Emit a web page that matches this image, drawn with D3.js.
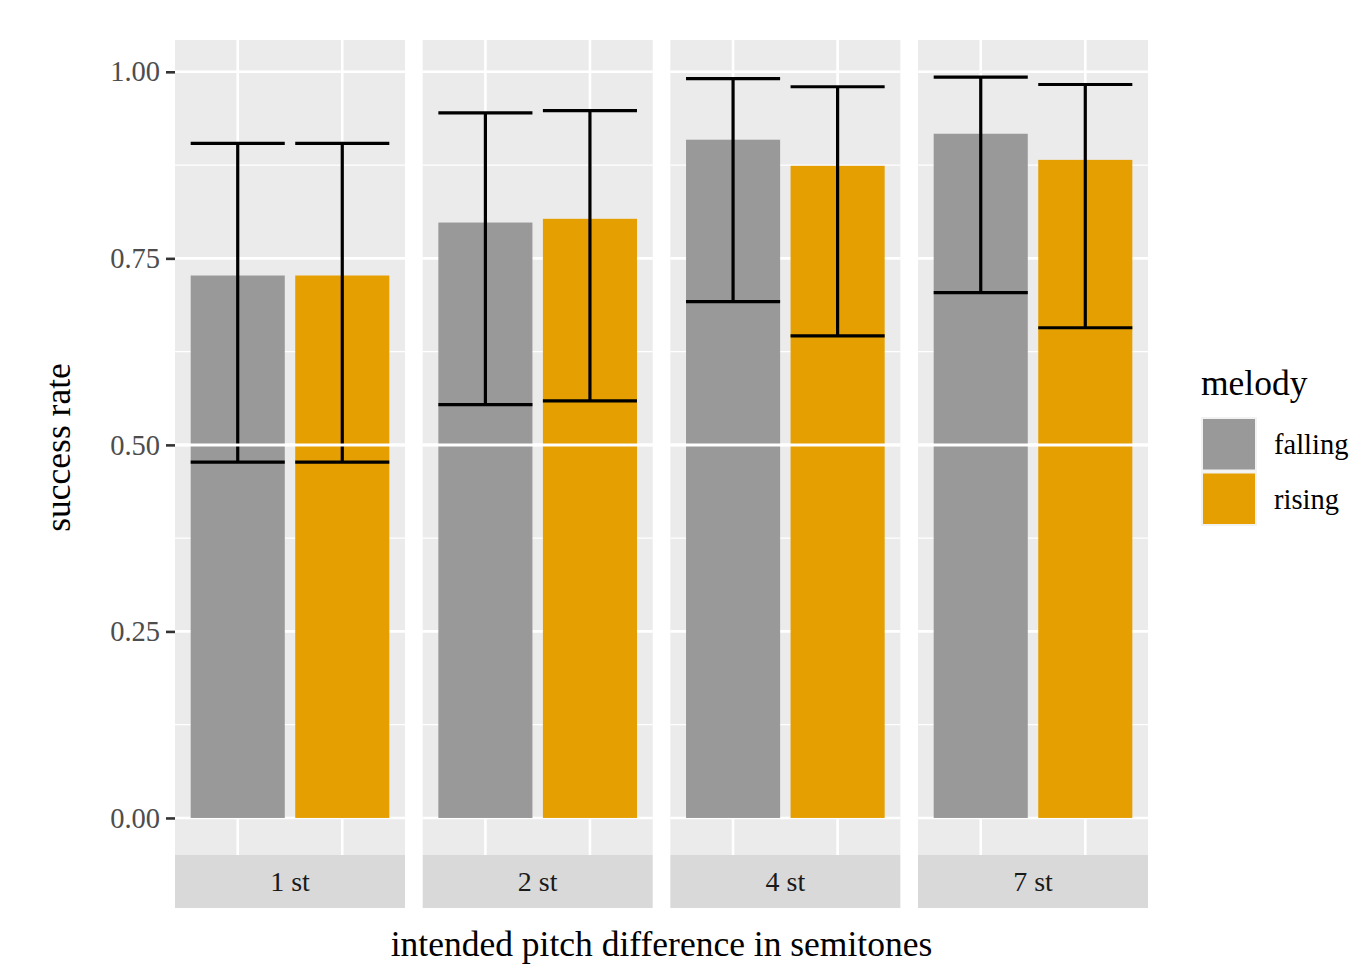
<!DOCTYPE html>
<html>
<head>
<meta charset="utf-8">
<script src="https://cdn.jsdelivr.net/npm/d3@7"></script>
<style>
  html, body { margin: 0; padding: 0; background: #fff; }
  svg { display: block; }
  text { font-family: "Liberation Serif", "DejaVu Serif", serif; }
</style>
</head>
<body>
<svg id="chart" width="1366" height="964"></svg>
<script>
// ---- data ----
const facets = ["1 st", "2 st", "4 st", "7 st"];
const melodies = ["falling", "rising"];
const fallingRate = [0.727, 0.798, 0.909, 0.917];
const risingRate  = [0.727, 0.803, 0.874, 0.882];
const fallingLower = [0.477, 0.554, 0.692, 0.704];
const fallingUpper = [0.904, 0.945, 0.991, 0.993];
const risingLower  = [0.477, 0.559, 0.646, 0.657];
const risingUpper  = [0.904, 0.948, 0.980, 0.983];
const yTicks = [0, 0.25, 0.5, 0.75, 1.0];
const yMinor = [0.125, 0.375, 0.625, 0.875];
const colors = { falling: "#999999", rising: "#E69F00" };
const chanceLevel = 0.5;

const rows = [];
facets.forEach((f, i) => {
  rows.push({ facet: f, melody: "falling", rate: fallingRate[i], lo: fallingLower[i], hi: fallingUpper[i] });
  rows.push({ facet: f, melody: "rising", rate: risingRate[i], lo: risingLower[i], hi: risingUpper[i] });
});

// ---- layout ----
const svg = d3.select("#chart");
const panelTop = 40, panelBottom = 855;
const stripH = 53;
const panelLeft = 175, panelW = 230, panelStep = 247.67;

const allVals = rows.flatMap(d => [0, d.rate, d.hi, d.lo]);
const yMax = d3.max(allVals), yMinV = 0;
const ex = (yMax - yMinV) * 0.05;
const y = d3.scaleLinear().domain([yMinV - ex, yMax + ex]).range([panelBottom, panelTop]);

// within-panel discrete x: positions 1,2 with 0.6 expand
const xc = d3.scaleLinear().domain([0.4, 2.6]).range([0, panelW]);
const barW = xc(1.45) - xc(1.0); // half of 0.9 width

const tickColor = "#333333";
const axisTextColor = "#4D4D4D";
const ebWidth = 3.2;

facets.forEach((f, i) => {
  const px = panelLeft + i * panelStep;
  const g = svg.append("g").attr("transform", `translate(${px},0)`);
  g.append("rect").attr("x", 0).attr("y", panelTop).attr("width", panelW).attr("height", panelBottom - panelTop).attr("fill", "#EBEBEB");
  // minor grid
  g.selectAll(".minor").data(yMinor).enter().append("line")
    .attr("x1", 0).attr("x2", panelW).attr("y1", d => y(d)).attr("y2", d => y(d))
    .attr("stroke", "#fff").attr("stroke-width", 1.3);
  // major grid
  g.selectAll(".major").data(yTicks).enter().append("line")
    .attr("x1", 0).attr("x2", panelW).attr("y1", d => y(d)).attr("y2", d => y(d))
    .attr("stroke", "#fff").attr("stroke-width", 2.6);
  g.selectAll(".vmajor").data(melodies).enter().append("line")
    .attr("x1", (d, j) => xc(j + 1)).attr("x2", (d, j) => xc(j + 1))
    .attr("y1", panelTop).attr("y2", panelBottom)
    .attr("stroke", "#fff").attr("stroke-width", 2.6);

  const data = rows.filter(r => r.facet === f);
  // bars
  g.selectAll(".bar").data(data).enter().append("rect")
    .attr("x", (d, j) => xc(j + 1) - barW)
    .attr("width", 2 * barW)
    .attr("y", d => y(d.rate))
    .attr("height", d => y(0) - y(d.rate))
    .attr("fill", d => colors[d.melody]);
  // error bars
  const eb = g.selectAll(".eb").data(data).enter().append("g");
  eb.append("line")
    .attr("x1", (d, j) => xc(j + 1)).attr("x2", (d, j) => xc(j + 1))
    .attr("y1", d => y(d.lo)).attr("y2", d => y(d.hi))
    .attr("stroke", "#000").attr("stroke-width", ebWidth);
  eb.append("line")
    .attr("x1", (d, j) => xc(j + 1) - barW).attr("x2", (d, j) => xc(j + 1) + barW)
    .attr("y1", d => y(d.hi)).attr("y2", d => y(d.hi))
    .attr("stroke", "#000").attr("stroke-width", ebWidth);
  eb.append("line")
    .attr("x1", (d, j) => xc(j + 1) - barW).attr("x2", (d, j) => xc(j + 1) + barW)
    .attr("y1", d => y(d.lo)).attr("y2", d => y(d.lo))
    .attr("stroke", "#000").attr("stroke-width", ebWidth);
  // chance line
  g.append("line").attr("x1", 0).attr("x2", panelW)
    .attr("y1", y(chanceLevel)).attr("y2", y(chanceLevel))
    .attr("stroke", "#fff").attr("stroke-width", 3);

  // strip
  g.append("rect").attr("x", 0).attr("y", panelBottom).attr("width", panelW).attr("height", stripH).attr("fill", "#D9D9D9");
  g.append("text").attr("x", panelW / 2).attr("y", panelBottom + stripH / 2)
    .attr("dy", "0.35em").attr("text-anchor", "middle")
    .attr("font-size", 28).attr("fill", "#1A1A1A").text(f);
});

// y axis
const yAxis = d3.axisLeft(y).tickValues(yTicks).tickFormat(d3.format(".2f")).tickSize(9).tickPadding(6);
const ga = svg.append("g").attr("transform", `translate(${panelLeft},0)`).call(yAxis);
ga.select(".domain").remove();
ga.selectAll(".tick line").attr("stroke", tickColor).attr("stroke-width", 2.6);
ga.selectAll(".tick text").attr("fill", axisTextColor).attr("font-size", 28.5);

// axis titles
svg.append("text").attr("transform", `translate(70,${(panelTop + panelBottom) / 2}) rotate(-90)`)
  .attr("text-anchor", "middle").attr("font-size", 35.5).attr("fill", "#000").text("success rate");
svg.append("text").attr("x", (panelLeft + panelLeft + panelStep * 3 + panelW) / 2).attr("y", 956)
  .attr("text-anchor", "middle").attr("font-size", 35.5).attr("fill", "#000").text("intended pitch difference in semitones");

// legend
const lg = svg.append("g");
lg.append("text").attr("x", 1201).attr("y", 395).attr("font-size", 35.5).attr("fill", "#000").text("melody");
const keyH = 54.5;
melodies.forEach((m, j) => {
  const ky = 417 + j * keyH;
  lg.append("rect").attr("x", 1201).attr("y", ky).attr("width", 56).attr("height", keyH).attr("fill", "#F2F2F2");
  lg.append("rect").attr("x", 1203).attr("y", ky + 2).attr("width", 52).attr("height", keyH - 4).attr("fill", colors[m]);
  lg.append("text").attr("x", 1274).attr("y", ky + keyH / 2).attr("dy", "0.35em")
    .attr("font-size", 28.5).attr("fill", "#000").text(m);
});
</script>
</body>
</html>
